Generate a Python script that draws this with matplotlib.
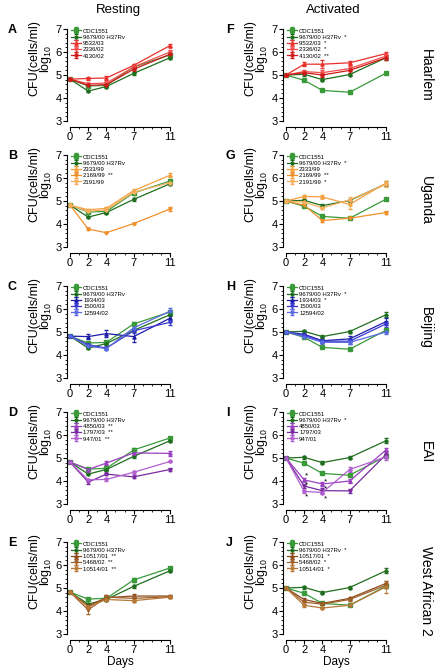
import matplotlib
matplotlib.use("Agg")
import matplotlib.pyplot as plt
from matplotlib.ticker import MultipleLocator

plt.rcParams["font.family"] = ["Liberation Sans", "DejaVu Sans"]
plt.rcParams["mathtext.fontset"] = "custom"
plt.rcParams["mathtext.rm"] = "Liberation Sans"

days = [0, 2, 4, 7, 11]

# controls (mean, sem)
rest_cdc = [4.82, 4.52, 4.55, 5.35, 5.87]
rest_cdc_err = [0.03, 0.05, 0.05, 0.07, 0.06]
rest_h37 = [4.82, 4.30, 4.50, 5.07, 5.75]
rest_h37_err = [0.03, 0.04, 0.05, 0.08, 0.05]
act_cdc = [5.00, 4.77, 4.33, 4.25, 5.08]
act_cdc_err = [0.02, 0.05, 0.04, 0.04, 0.05]
act_h37 = [5.00, 5.03, 4.80, 5.02, 5.75]
act_h37_err = [0.02, 0.06, 0.07, 0.08, 0.10]

lineages = ["Haarlem", "Uganda", "Beijing", "EAI", "West African 2"]
strains = [
    ["9532/03", "2336/02", "4130/02"],
    ["2333/99", "2169/99", "2191/99"],
    ["1934/03", "1500/03", "12594/02"],
    ["4850/03", "1797/03", "947/01"],
    ["10517/01", "5468/02", "10514/01"],
]
colors = [
    ["#e8302a", "#f05050", "#d01818"],
    ["#f5a040", "#f0902a", "#f8b060"],
    ["#1c1ca8", "#3a3ad0", "#5a6ae0"],
    ["#9a40c0", "#7a2aa0", "#b060d0"],
    ["#8a4a1a", "#a0602a", "#b87838"],
]
rest_stars = [["", "", ""], ["", "**", ""], ["", "", ""],
              ["**", "**", "**"], ["**", "**", "**"]]
act_stars = [["*", "*", "**"], ["", "**", "*"], ["*", "", ""],
             ["", "", ""], ["*", "*", "*"]]
act_h37_star = ["*", "*", "*", "*", "*"]

rest_vals = [
    [[4.82, 4.85, 4.87, 5.42, 6.28], [4.82, 4.62, 4.65, 5.35, 6.00], [4.82, 4.55, 4.58, 5.25, 5.90]],
    [[4.82, 4.62, 4.68, 5.45, 6.12], [4.82, 3.78, 3.62, 4.02, 4.65], [4.82, 4.55, 4.62, 5.38, 5.80]],
    [[4.82, 4.80, 4.93, 4.80, 5.60], [4.82, 4.45, 4.30, 5.05, 5.42], [4.82, 4.38, 4.28, 5.18, 5.90]],
    [[4.82, 4.50, 4.78, 5.22, 5.20], [4.82, 3.95, 4.30, 4.18, 4.50], [4.82, 4.05, 4.07, 4.38, 4.85]],
    [[4.82, 4.22, 4.58, 4.65, 4.65], [4.82, 4.05, 4.60, 4.55, 4.62], [4.82, 4.18, 4.50, 4.45, 4.60]],
]
rest_errs = [
    [[0.03, 0.08, 0.08, 0.07, 0.08], [0.03, 0.05, 0.05, 0.06, 0.07], [0.03, 0.04, 0.05, 0.06, 0.06]],
    [[0.03, 0.05, 0.05, 0.06, 0.08], [0.03, 0.03, 0.03, 0.04, 0.07], [0.03, 0.05, 0.05, 0.05, 0.06]],
    [[0.03, 0.10, 0.15, 0.25, 0.15], [0.03, 0.06, 0.05, 0.10, 0.10], [0.03, 0.05, 0.05, 0.08, 0.15]],
    [[0.03, 0.06, 0.07, 0.08, 0.10], [0.03, 0.06, 0.05, 0.05, 0.06], [0.03, 0.05, 0.05, 0.06, 0.04]],
    [[0.03, 0.05, 0.10, 0.08, 0.04], [0.03, 0.20, 0.08, 0.08, 0.05], [0.03, 0.05, 0.05, 0.08, 0.05]],
]
act_vals = [
    [[5.00, 5.47, 5.47, 5.53, 5.93], [5.00, 5.15, 5.10, 5.28, 5.82], [5.00, 5.10, 5.00, 5.20, 5.75]],
    [[5.00, 5.20, 5.18, 4.85, 5.78], [5.00, 4.82, 4.15, 4.25, 4.50], [5.00, 4.95, 4.70, 5.05, 5.72]],
    [[5.00, 4.90, 4.62, 4.70, 5.45], [5.00, 4.85, 4.60, 4.60, 5.35], [5.00, 4.80, 4.55, 4.55, 5.00]],
    [[5.00, 4.05, 3.87, 4.00, 5.35], [5.00, 3.78, 3.58, 3.57, 5.15], [5.00, 3.55, 3.50, 4.50, 5.05]],
    [[5.00, 4.50, 4.33, 4.55, 5.20], [5.00, 4.38, 4.30, 4.50, 5.12], [5.00, 4.25, 4.13, 4.25, 5.05]],
]
act_errs = [
    [[0.02, 0.08, 0.18, 0.08, 0.06], [0.02, 0.08, 0.10, 0.10, 0.06], [0.02, 0.06, 0.08, 0.10, 0.08]],
    [[0.02, 0.08, 0.06, 0.20, 0.08], [0.02, 0.06, 0.06, 0.05, 0.08], [0.02, 0.06, 0.06, 0.12, 0.10]],
    [[0.02, 0.08, 0.06, 0.12, 0.15], [0.02, 0.06, 0.06, 0.10, 0.12], [0.02, 0.08, 0.06, 0.08, 0.08]],
    [[0.02, 0.06, 0.08, 0.08, 0.10], [0.02, 0.08, 0.10, 0.08, 0.15], [0.02, 0.08, 0.08, 0.12, 0.12]],
    [[0.02, 0.06, 0.06, 0.08, 0.12], [0.02, 0.06, 0.05, 0.06, 0.10], [0.02, 0.06, 0.04, 0.05, 0.25]],
]
# significance stars in panel I (day, value)
eai_star_x = [2.3, 2.3, 2.3, 4.3, 4.3, 4.3]
eai_star_y = [4.22, 3.83, 3.31, 3.97, 3.64, 3.21]

panel_letters = [["A", "B", "C", "D", "E"], ["F", "G", "H", "I", "J"]]

W, H = 437, 670
fig = plt.figure(figsize=(W / 100, H / 100), dpi=100)
col_x = [70, 286]
row_top = [29, 155, 286, 412, 542]
ax_w, ax_h = 100, 92
markers = ["^", "v", "P"]

fig.text(118 / W, 1 - 10 / H, "Resting", ha="center", va="center", fontsize=9.5)
fig.text(333 / W, 1 - 10 / H, "Activated", ha="center", va="center", fontsize=9.5)


def draw(ax, cdc, cdc_e, h37, h37_e, vals, errs, cols, names, stars, h37s):
    ax.errorbar(days, cdc, yerr=cdc_e, color="#3a9a3a", marker="s", ms=2.3, lw=0.9,
                capsize=1.2, elinewidth=0.6, label="CDC1551", clip_on=False)
    ax.errorbar(days, h37, yerr=h37_e, color="#1f6e1f", marker="D", ms=1.8, lw=0.9,
                capsize=1.2, elinewidth=0.6, label="9679/00 H37Rv" + ("  " + h37s if h37s else ""),
                clip_on=False)
    for v, e, c, n, s, m in zip(vals, errs, cols, names, stars, markers):
        ax.errorbar(days, v, yerr=e, color=c, marker=m, ms=2.3, lw=0.9, capsize=1.2,
                    elinewidth=0.6, label=n + ("  " + s if s else ""), clip_on=False)
    ax.set_xlim(0, 11)
    ax.set_ylim(3, 7)
    ax.set_xticks(days)
    ax.set_yticks([3, 4, 5, 6, 7])
    ax.xaxis.set_minor_locator(MultipleLocator(1))
    ax.yaxis.set_minor_locator(MultipleLocator(0.2))
    ax.tick_params(labelsize=8, length=3, width=0.8, pad=1)
    ax.tick_params(which="minor", length=1.5, width=0.6)
    for sp in ["top", "right"]:
        ax.spines[sp].set_visible(False)
    ax.spines["left"].set_position(("outward", 2))
    ax.spines["bottom"].set_position(("outward", 4))
    ax.set_ylabel("CFU(cells/ml)\nlog$_{10}$", fontsize=9, linespacing=0.8)
    ax.yaxis.set_label_coords(-0.16, 0.68)
    ax.legend(loc="upper left", bbox_to_anchor=(0.0, 1.02), fontsize=4.3, frameon=False,
              handlelength=1.6, handletextpad=0.4, labelspacing=0.18, borderaxespad=0.0,
              borderpad=0.2)


for r in range(5):
    for c in range(2):
        left = col_x[c] / W
        bottom = 1 - (row_top[r] + ax_h) / H
        ax = fig.add_axes([left, bottom, ax_w / W, ax_h / H])
        if c == 0:
            draw(ax, rest_cdc, rest_cdc_err, rest_h37, rest_h37_err, rest_vals[r], rest_errs[r],
                 colors[r], strains[r], rest_stars[r], "")
        else:
            draw(ax, act_cdc, act_cdc_err, act_h37, act_h37_err, act_vals[r], act_errs[r],
                 colors[r], strains[r], act_stars[r], act_h37_star[r])
        if r == 4:
            ax.set_xlabel("Days", fontsize=8.5, labelpad=1)
        lx = 8 if c == 0 else 226
        fig.text(lx / W, 1 - (row_top[r] + 1) / H, panel_letters[c][r], fontsize=9,
                 fontweight="bold", ha="left", va="center")
        if c == 1 and r == 3:
            for sx, sy in zip(eai_star_x, eai_star_y):
                ax.text(sx, sy, "*", fontsize=6, ha="center", va="center")

label_y = [75, 200, 328, 452, 591]
for name, ly in zip(lineages, label_y):
    fig.text(426 / W, 1 - ly / H, name, rotation=-90, fontsize=10, ha="center", va="center")

fig.savefig("out.png", dpi=100)
